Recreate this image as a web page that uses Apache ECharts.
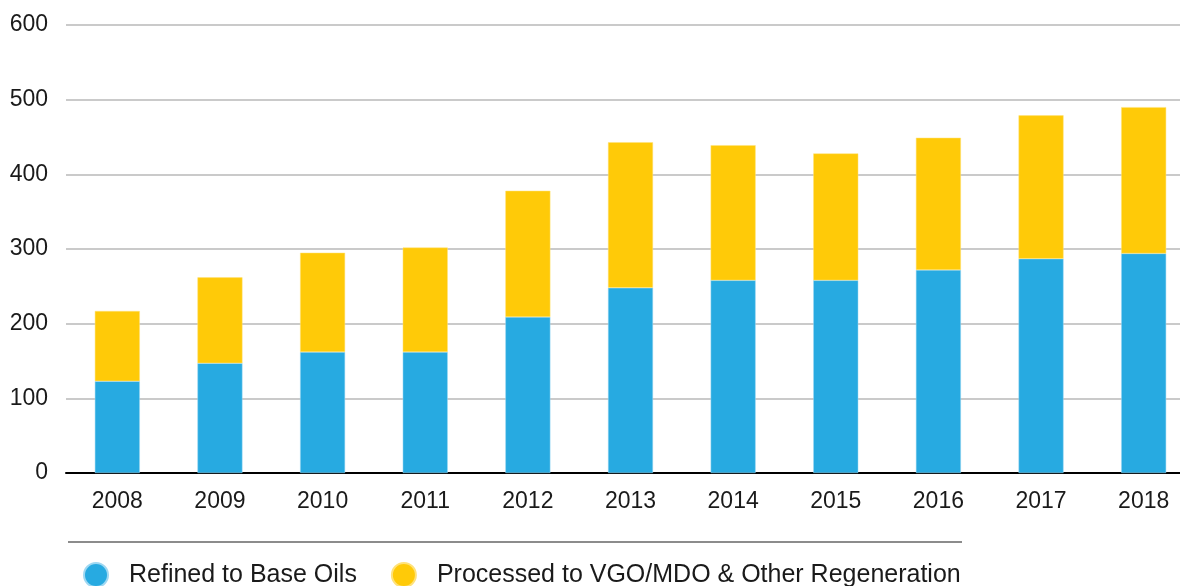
<!DOCTYPE html>
<html>
<head>
<meta charset="utf-8">
<style>
  html, body { margin: 0; padding: 0; background: #fff; overflow: hidden; }
  /* the plot runs slightly past the right edge of the window, as in the source */
  #chart { width: 1195px; height: 586px; }
</style>
<script src="https://cdn.jsdelivr.net/npm/echarts@6/dist/echarts.min.js"></script>
</head>
<body>
<div id="chart"></div>
<script>
var years = ['2008', '2009', '2010', '2011', '2012', '2013', '2014', '2015', '2016', '2017', '2018'];
var baseOils = [123, 147, 162, 162, 209, 248, 258, 258, 272, 287, 294];
var vgoOther = [94, 115, 133, 140, 169, 195, 181, 170, 177, 192, 196];
var seriesNames = ['Refined to Base Oils', 'Processed to VGO/MDO & Other Regeneration'];

var blue = '#27aae1';
var yellow = '#ffca08';
var ink = '#1a1a1a';
var font = '"Liberation Sans", Arial, sans-serif';

var chart = echarts.init(document.getElementById('chart'), null, { renderer: 'canvas' });
chart.setOption({
  animation: false,
  textStyle: { fontFamily: font },
  grid: { left: 66, top: 25, bottom: 113, right: 0, containLabel: false },
  legend: {
    left: 78,
    top: 557,
    icon: 'circle',
    itemWidth: 56,
    itemHeight: 24,
    itemGap: 34,
    textStyle: { color: ink, fontSize: 25, fontFamily: font },
    data: seriesNames
  },
  graphic: [{
    type: 'line',
    shape: { x1: 68, y1: 542, x2: 962, y2: 542 },
    style: { stroke: '#8c8c8c', lineWidth: 2 }
  }],
  xAxis: {
    type: 'category',
    data: years,
    axisLine: { lineStyle: { color: '#000', width: 2 } },
    axisTick: { show: false },
    axisLabel: { color: ink, fontSize: 23, margin: 17, fontFamily: font }
  },
  yAxis: {
    type: 'value',
    min: 0,
    max: 600,
    interval: 100,
    axisLine: { show: false },
    axisTick: { show: false },
    axisLabel: { color: ink, fontSize: 23, margin: 18, fontFamily: font },
    splitLine: { lineStyle: { color: '#b8b8b8', width: 1.5 } }
  },
  series: [{
    name: seriesNames[0],
    type: 'bar',
    stack: 'total',
    data: baseOils,
    barWidth: 45,
    itemStyle: { color: blue, borderColor: '#9fd8f2', borderWidth: 0.5 }
  }, {
    name: seriesNames[1],
    type: 'bar',
    stack: 'total',
    data: vgoOther,
    barWidth: 45,
    itemStyle: { color: yellow, borderColor: '#ffe27a', borderWidth: 0.5 }
  }]
});
</script>
</body>
</html>
